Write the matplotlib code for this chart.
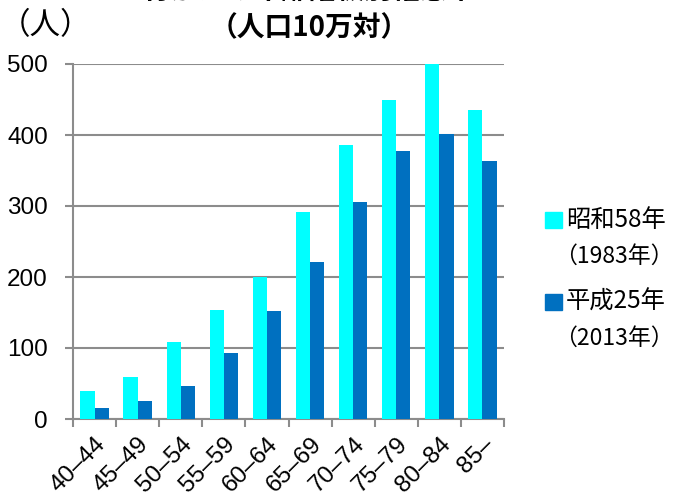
import matplotlib
matplotlib.use("Agg")
import matplotlib.pyplot as plt
import numpy as np

plt.rcParams['font.family'] = ['Liberation Sans', 'Noto Sans CJK JP', 'DejaVu Sans']

# datos
grupos = ['40–44', '45–49', '50–54', '55–59', '60–64',
          '65–69', '70–74', '75–79', '80–84', '85–']
s1983 = [40, 59, 108, 153, 200, 291, 386, 450, 500, 435]
s2013 = [16, 25, 46, 93, 152, 221, 306, 377, 401, 364]
etiquetas = ['昭和58年\n（1983年）', '平成25年\n（2013年）']
colores = ['#00FFFF', '#0070C0']

fig = plt.figure(figsize=(6.76, 4.96), dpi=100)
ax = fig.add_axes([73 / 676, 1 - 419 / 496, 431 / 676, 355 / 496])

x = np.arange(len(grupos))
ancho = 0.33
ax.bar(x - ancho / 2, s1983, ancho, color=colores[0], zorder=3)
ax.bar(x + ancho / 2, s2013, ancho, color=colores[1], zorder=3)

ax.set_xlim(-0.5, len(grupos) - 0.5)
ax.set_ylim(0, 500)
ax.set_yticks(range(0, 501, 100))
ax.set_xticks(np.arange(len(grupos) + 1) - 0.5)
ax.set_xticklabels([])
ax.set_xticks(x, minor=True)
ax.set_xticklabels(grupos, minor=True, rotation=45, ha='right', va='top',
                   rotation_mode='anchor', fontsize=17.5)
ax.tick_params(axis='x', which='minor', length=0, pad=10)
ax.tick_params(axis='x', which='major', length=6, width=1.5, color='#8c8c8c')
ax.tick_params(axis='y', length=6, width=1.5, color='#8c8c8c', labelsize=17.5, pad=12)

ax.grid(axis='y', color='#8c8c8c', linewidth=1.5, zorder=0)
for s in ['top', 'right']:
    ax.spines[s].set_visible(False)
for s in ['left', 'bottom']:
    ax.spines[s].set_color('#8c8c8c')
    ax.spines[s].set_linewidth(1.5)

# leyenda
for i, (et, c) in enumerate(zip(etiquetas, colores)):
    yy = 1 - (220 + i * 82) / 496
    fig.patches.append(plt.Rectangle((545 / 676, yy - 8 / 496), 17 / 676, 16 / 496,
                                     transform=fig.transFigure, color=c, figure=fig))
    l1, l2 = et.split('\n')
    fig.text(566 / 676, yy, l1, fontsize=17.5, va='center', ha='left',
             family=['Noto Sans CJK JP'])
    fig.text(554 / 676, yy - 36 / 496, l2, fontsize=16.5, va='center', ha='left',
             family=['Noto Sans CJK JP'])

# títulos
fig.text(309 / 676, 1 + 9 / 496, '胃がんの年齢階級別罹患率', fontsize=20, fontweight='bold',
         ha='center', va='center', family=['Noto Sans CJK JP'])
fig.text(309 / 676, 1 - 28 / 496, '（人口10万対）', fontsize=20, fontweight='bold',
         ha='center', va='center', family=['Noto Sans CJK JP'])
fig.text(0, 1 - 26 / 496, '（人）', fontsize=22, ha='left', va='center',
         family=['Noto Sans CJK JP'])

fig.savefig('out.png', dpi=100)
